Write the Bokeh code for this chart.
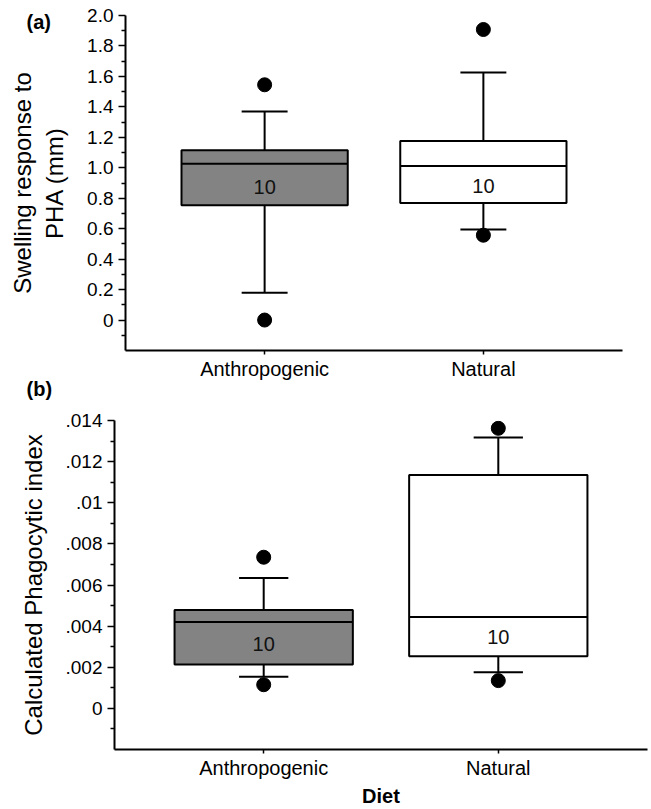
from bokeh.plotting import figure
from bokeh.layouts import column, row
from bokeh.models import FixedTicker, Range1d, Title
from bokeh.core.properties import value
from bokeh.embed import file_html
from bokeh.resources import INLINE

# ---- data ----
categories = ["Anthropogenic", "Natural"]
xpos = [1, 2]
counts = ["10", "10"]

# Panel (a): swelling response to PHA (mm)
a_lower = [0.18, 0.595]
a_q1 = [0.754, 0.769]
a_median = [1.027, 1.012]
a_q3 = [1.115, 1.176]
a_upper = [1.37, 1.626]
a_out_x = [1, 1, 2, 2]
a_out_y = [1.545, 0.0, 1.908, 0.557]
a_label_y = [0.875, 0.88]
a_ticks = [0, 0.2, 0.4, 0.6, 0.8, 1.0, 1.2, 1.4, 1.6, 1.8, 2.0]
a_tick_labels = ["0", "0.2", "0.4", "0.6", "0.8", "1.0", "1.2", "1.4", "1.6", "1.8", "2.0"]
a_minor = [-0.1, 0.1, 0.3, 0.5, 0.7, 0.9, 1.1, 1.3, 1.5, 1.7, 1.9]

# Panel (b): calculated phagocytic index
b_lower = [0.00154, 0.00176]
b_q1 = [0.00213, 0.00254]
b_median = [0.0042, 0.00444]
b_q3 = [0.00478, 0.01135]
b_upper = [0.00634, 0.01317]
b_out_x = [1, 1, 2, 2]
b_out_y = [0.00735, 0.00115, 0.01362, 0.00135]
b_label_y = [0.00314, 0.00346]
b_ticks = [0, 0.002, 0.004, 0.006, 0.008, 0.010, 0.012, 0.014]
b_tick_labels = ["0", ".002", ".004", ".006", ".008", ".01", ".012", ".014"]
b_minor = [-0.001, 0.001, 0.003, 0.005, 0.007, 0.009, 0.011, 0.013]

FONT = "Liberation Sans"
BOX_W = 0.76
CAP_W = 0.21
GRAY = "#838383"
fills = [GRAY, "white"]


def make_panel(height, borders, yr, lower, q1, med, q3, upper, ox, oy, ly,
               ticks, tick_labels, minor, ylabel, xlabel=None):
    top, bottom, left, right = borders
    p = figure(width=651, height=height, output_backend="svg", toolbar_location=None,
               x_range=Range1d(0.364, 2.636), y_range=Range1d(*yr),
               min_border_top=top, min_border_bottom=bottom,
               min_border_left=left, min_border_right=right)
    p.outline_line_color = None
    p.xgrid.visible = False
    p.ygrid.visible = False
    p.background_fill_color = "white"
    p.border_fill_color = "white"

    # whiskers
    p.segment(x0=xpos, x1=xpos, y0=q3, y1=upper, line_color="black", line_width=2)
    p.segment(x0=xpos, x1=xpos, y0=q1, y1=lower, line_color="black", line_width=2)
    p.segment(x0=[x - CAP_W / 2 for x in xpos], x1=[x + CAP_W / 2 for x in xpos],
              y0=upper, y1=upper, line_color="black", line_width=2)
    p.segment(x0=[x - CAP_W / 2 for x in xpos], x1=[x + CAP_W / 2 for x in xpos],
              y0=lower, y1=lower, line_color="black", line_width=2)
    # boxes
    p.vbar(x=xpos, width=BOX_W, bottom=q1, top=q3, fill_color=fills,
           line_color="black", line_width=2)
    p.segment(x0=[x - BOX_W / 2 for x in xpos], x1=[x + BOX_W / 2 for x in xpos],
              y0=med, y1=med, line_color="black", line_width=2)
    # outliers
    p.scatter(x=ox, y=oy, size=14, color="black")
    # counts
    p.text(x=xpos, y=ly, text=counts, text_align="center", text_baseline="middle",
           text_font=value(FONT), text_font_size="20px", text_color="#111111")

    # axes
    xa = p.xaxis[0]
    xa.ticker = FixedTicker(ticks=xpos, minor_ticks=[])
    xa.major_label_overrides = {x: c for x, c in zip(xpos, categories)}
    xa.major_label_text_font = FONT
    xa.major_label_text_font_size = "20px"
    xa.major_label_text_color = "black"
    xa.major_tick_out = 4
    xa.major_tick_in = 0
    xa.minor_tick_out = 0
    xa.major_tick_line_width = 1.5
    xa.axis_line_width = 2
    xa.axis_line_color = "black"
    xa.major_label_standoff = 3
    if xlabel:
        xa.axis_label = xlabel
        xa.axis_label_text_font = FONT
        xa.axis_label_text_font_style = "bold"
        xa.axis_label_text_font_size = "20px"
        xa.axis_label_text_color = "black"
        xa.axis_label_standoff = 3

    ya = p.yaxis[0]
    ya.ticker = FixedTicker(ticks=ticks, minor_ticks=minor)
    ya.major_label_overrides = {t: s for t, s in zip(ticks, tick_labels)}
    ya.major_label_text_font = FONT
    ya.major_label_text_font_size = "19px"
    ya.major_label_text_color = "black"
    ya.major_tick_out = 7
    ya.major_tick_in = 0
    ya.minor_tick_out = 4
    ya.minor_tick_in = 0
    ya.major_tick_line_width = 1.5
    ya.minor_tick_line_width = 1.5
    ya.axis_line_width = 2
    ya.axis_line_color = "black"
    ya.major_label_standoff = 5
    ya.axis_label = ylabel
    ya.axis_label_text_font = FONT
    ya.axis_label_text_font_style = "normal"
    ya.axis_label_text_font_size = "24px"
    ya.axis_label_text_color = "black"
    ya.axis_label_standoff = 16
    return p


def tag(text, off, standoff):
    return Title(text=text, align="left", offset=off, standoff=standoff,
                 vertical_align="bottom", text_font=FONT, text_font_style="bold",
                 text_font_size="20px", text_color="black")


pa = make_panel(404, (15, 54, 125, 29), (-0.2, 2.0), a_lower, a_q1, a_median, a_q3, a_upper,
                a_out_x, a_out_y, a_label_y, a_ticks, a_tick_labels, a_minor,
                "Swelling response to\nPHA (mm)")
pa.add_layout(tag("(a)", -99, -35), "above")
pa.add_layout(tag("(b)", -99, -14), "below")

pb = make_panel(405, (16, 60, 114, 4), (-0.002, 0.014), b_lower, b_q1, b_median, b_q3, b_upper,
                b_out_x, b_out_y, b_label_y, b_ticks, b_tick_labels, b_minor,
                "Calculated Phagocytic index", xlabel="Diet")

layout = column(pa, row(pb), spacing=0)
open("out.html", "w").write(file_html(layout, INLINE))
